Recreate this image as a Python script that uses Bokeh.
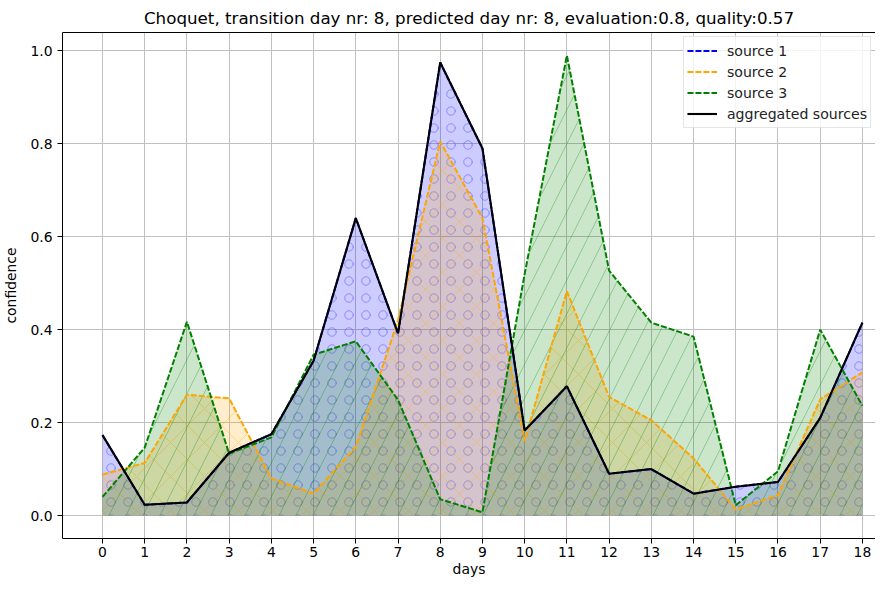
from bokeh.plotting import figure
from bokeh.models import Range1d, FixedTicker, LinearAxis, Legend, LegendItem, NumeralTickFormatter
from bokeh.embed import file_html
from bokeh.resources import INLINE

days = list(range(19))
source_1 = [0.173, 0.023, 0.028, 0.135, 0.175, 0.333, 0.64, 0.392, 0.975, 0.79,
            0.183, 0.278, 0.09, 0.10, 0.047, 0.062, 0.072, 0.21, 0.415]
source_2 = [0.088, 0.113, 0.26, 0.252, 0.08, 0.047, 0.148, 0.42, 0.805, 0.64,
            0.16, 0.483, 0.255, 0.205, 0.123, 0.013, 0.044, 0.25, 0.308]
source_3 = [0.04, 0.146, 0.417, 0.133, 0.168, 0.346, 0.375, 0.249, 0.035, 0.007,
            0.52, 0.99, 0.527, 0.415, 0.385, 0.022, 0.095, 0.4, 0.236]
aggregated = [0.173, 0.023, 0.028, 0.135, 0.175, 0.333, 0.64, 0.392, 0.975, 0.79,
              0.183, 0.278, 0.09, 0.10, 0.047, 0.062, 0.072, 0.21, 0.415]
y_ticks = [0.0, 0.2, 0.4, 0.6, 0.8, 1.0]
title_text = "Choquet, transition day nr: 8, predicted day nr: 8, evaluation:0.8, quality:0.57"

FONT = "DejaVu Sans"
TICK_FS = "13.9px"

p = figure(width=875, height=579, output_backend="svg", toolbar_location=None,
           x_range=Range1d(-0.947, 18.31), y_range=Range1d(-0.0495, 1.0395),
           title=title_text, min_border_left=57, min_border_right=0,
           min_border_top=0, min_border_bottom=0)
p.title.text_font = FONT
p.title.text_font_size = "16.7px"
p.title.text_font_style = "normal"
p.title.align = "center"
p.title.text_color = "#000000"
p.outline_line_color = None
p.background_fill_color = "white"
p.border_fill_color = "white"

zero = [0.0] * len(days)
fills = [
    (source_1, "#0000ff", "ring", 17),
    (source_2, "#ffa500", "diagonal_cross", 34),
    (source_3, "#008000", "right_diagonal_line", 34),
]
lines = []
for vals, col, hatch, sc in fills:
    p.varea(x=days, y1=zero, y2=vals, fill_color=col, fill_alpha=0.2,
            hatch_pattern=hatch, hatch_color=col, hatch_alpha=0.3,
            hatch_scale=sc, hatch_weight=1)
for vals, col, hatch, sc in fills:
    r = p.line(days, vals, line_color=col, line_width=2, line_dash="6 2")
    lines.append(r)
agg = p.line(days, aggregated, line_color="#000000", line_width=2.1)
lines.append(agg)

legend = Legend(items=[
    LegendItem(label="source 1", renderers=[lines[0]]),
    LegendItem(label="source 2", renderers=[lines[1]]),
    LegendItem(label="source 3", renderers=[lines[2]]),
    LegendItem(label="aggregated sources", renderers=[lines[3]]),
], location="top_right")
legend.label_text_font = FONT
legend.label_text_font_size = "14.1px"
legend.label_text_color = "#222222"
legend.glyph_width = 30
legend.glyph_height = 21
legend.label_height = 21
legend.spacing = 0
legend.padding = 3
legend.margin = 4
legend.label_standoff = 10
legend.border_line_color = "#cccccc"
legend.border_line_width = 1
legend.background_fill_alpha = 0.8
p.add_layout(legend, "center")

for ax in (p.xaxis[0], p.yaxis[0]):
    ax.axis_line_color = "#000000"
    ax.axis_line_width = 1
    ax.major_tick_line_color = "#000000"
    ax.major_tick_out = 5
    ax.major_tick_in = 0
    ax.minor_tick_out = 0
    ax.minor_tick_in = 0
    ax.major_label_text_font = FONT
    ax.major_label_text_font_size = TICK_FS
    ax.major_label_text_color = "#000000"
    ax.major_label_standoff = 5
    ax.axis_label_text_font = FONT
    ax.axis_label_text_font_size = TICK_FS
    ax.axis_label_text_font_style = "normal"
    ax.axis_label_text_color = "#000000"

p.xaxis[0].ticker = FixedTicker(ticks=days)
p.yaxis[0].ticker = FixedTicker(ticks=y_ticks)
p.yaxis[0].formatter = NumeralTickFormatter(format="0.0")
p.xaxis[0].axis_label = "days"
p.yaxis[0].axis_label = "confidence"
p.xaxis[0].major_label_standoff = 3
p.xaxis[0].axis_label_standoff = 1
p.yaxis[0].axis_label_standoff = 8

top_axis = LinearAxis(ticker=FixedTicker(ticks=[]), major_label_text_font_size="0px",
                      major_tick_out=0, major_tick_in=0, minor_tick_out=0, minor_tick_in=0,
                      axis_line_color="#000000", axis_line_width=1, major_label_standoff=0)
p.add_layout(top_axis, "above")

for g in (p.xgrid[0], p.ygrid[0]):
    g.grid_line_color = "#c0c0c0"
    g.grid_line_width = 1
p.xgrid[0].ticker = FixedTicker(ticks=days)
p.ygrid[0].ticker = FixedTicker(ticks=y_ticks)

open("out.html", "w").write(file_html(p, INLINE))
